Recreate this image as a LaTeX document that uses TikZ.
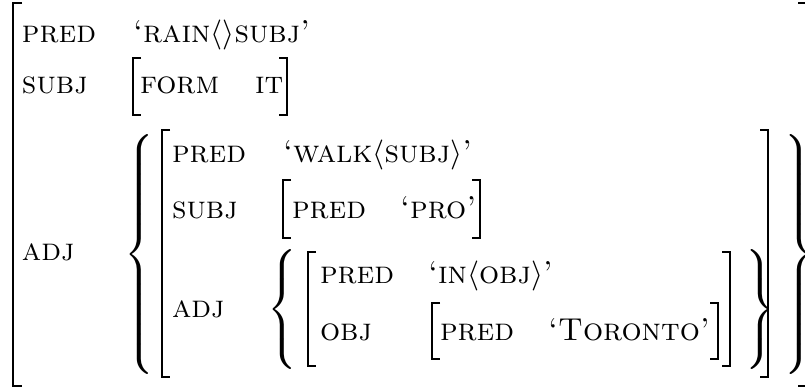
\documentclass[tikz,border=0pt]{standalone}
\delimiterfactor=1000
\delimitershortfall=0pt
\tikzset{
  lab/.style={anchor=base west, inner sep=0pt, outer sep=0pt, font=\fontsize{9.5}{11}\selectfont\scshape},
  brk/.style={line width=0.42pt},
  dlm/.style={inner sep=0pt, outer sep=0pt, font=\fontsize{9.5}{11}\selectfont},
}
\begin{document}
\begin{tikzpicture}[x=0.3pt,y=-0.3pt]
\useasboundingbox (0,0) rectangle (805,387);
% outer f-structure brackets
\draw[brk] (22,3) -- (13,3) -- (13,386) -- (22,386);
\draw[brk] (798,3) -- (807,3) -- (807,386) -- (798,386);
\node[lab] (p1) at (22,42) {pred};
\node[lab] (v1) at (133,42) {`rain$\langle\rangle$subj'};
\node[lab] (s1) at (22,93) {subj};
\draw[brk] (141,58) -- (133,58) -- (133,115) -- (141,115);
\node[lab] (f1) at (140,93) {form};
\node[lab] (i1) at (255,93) {it};
\draw[brk] (279,58) -- (287,58) -- (287,115) -- (279,115);
\node[lab] (a1) at (22,260) {adj};
% adjunct set
\node[dlm, anchor=east] (b1) at (158,254) {$\left\{\vcenter to 71pt{\vss}\right.$};
\draw[brk] (170,130) -- (162,130) -- (162,377) -- (170,377);
\node[lab] (p2) at (172,162) {pred};
\node[lab] (v2) at (283,162) {`walk$\langle$subj$\rangle$'};
\node[lab] (s2) at (172,218) {subj};
\draw[brk] (291,180) -- (283,180) -- (283,238) -- (291,238);
\node[lab] (p3) at (292,218) {pred};
\node[lab] (v3) at (400,218) {`pro'};
\draw[brk] (472,180) -- (480,180) -- (480,238) -- (472,238);
\node[lab] (a2) at (172,317) {adj};
\node[dlm, anchor=east] (b2) at (301,309) {$\left\{\vcenter to 33pt{\vss}\right.$};
\draw[brk] (316,252) -- (308,252) -- (308,366) -- (316,366);
\node[lab] (p4) at (320,283) {pred};
\node[lab] (v4) at (428,283) {`in$\langle$obj$\rangle$'};
\node[lab] (o4) at (320,340) {obj};
\draw[brk] (440,303) -- (432,303) -- (432,359) -- (440,359);
\node[lab] (p5) at (440,340) {pred};
\node[lab] (v5) at (548,340) {`Toronto'};
\draw[brk] (710,303) -- (718,303) -- (718,359) -- (710,359);
\draw[brk] (722,252) -- (730,252) -- (730,366) -- (722,366);
\node[dlm, anchor=west] (b3) at (741,309) {$\left.\vcenter to 33pt{\vss}\right\}$};
\draw[brk] (760,130) -- (768,130) -- (768,377) -- (760,377);
\node[dlm, anchor=west] (b4) at (780,254) {$\left.\vcenter to 71pt{\vss}\right\}$};
\end{tikzpicture}
\end{document}
